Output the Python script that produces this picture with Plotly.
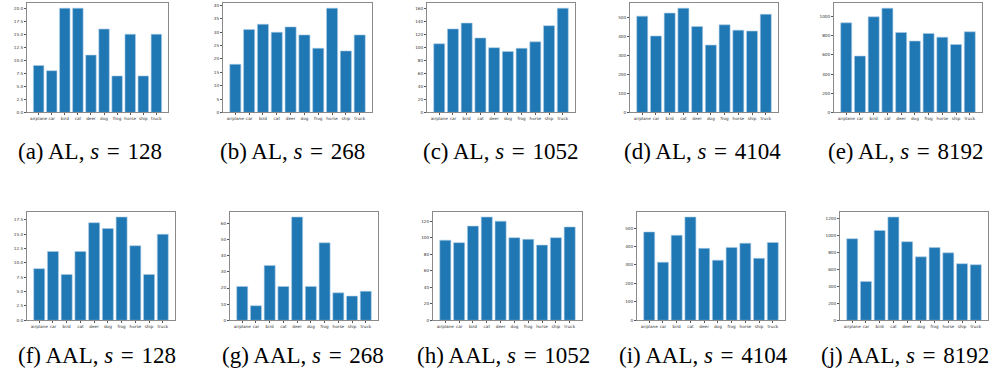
import plotly.graph_objects as go

categories = ["airplane", "car", "bird", "cat", "deer", "dog", "frog", "horse", "ship", "truck"]

al_128 = [9, 8, 20, 20, 11, 16, 7, 15, 7, 15]
al_268 = [18, 31, 33, 30, 32, 29, 24, 39, 23, 29]
al_1052 = [106, 129, 138, 115, 100, 94, 99, 109, 134, 161]
al_4104 = [509, 404, 525, 551, 454, 356, 463, 435, 430, 519]
al_8192 = [934, 588, 997, 1087, 834, 744, 824, 785, 709, 841]

aal_128 = [9, 12, 8, 12, 17, 16, 18, 13, 8, 15]
aal_268 = [21, 9, 34, 21, 64, 21, 48, 17, 15, 18]
aal_1052 = [97, 94, 114, 125, 120, 100, 98, 91, 100, 113]
aal_4104 = [479, 315, 461, 560, 390, 326, 395, 418, 336, 422]
aal_8192 = [960, 457, 1057, 1216, 925, 747, 856, 794, 666, 654]

EQ = "\u2004=\u2004"
captions = [
    "(a) AL, <i>s</i>" + EQ + "128", "(b) AL, <i>s</i>" + EQ + "268", "(c) AL, <i>s</i>" + EQ + "1052",
    "(d) AL, <i>s</i>" + EQ + "4104", "(e) AL, <i>s</i>" + EQ + "8192",
    "(f) AAL, <i>s</i>" + EQ + "128", "(g) AAL, <i>s</i>" + EQ + "268", "(h) AAL, <i>s</i>" + EQ + "1052",
    "(i) AAL, <i>s</i>" + EQ + "4104", "(j) AAL, <i>s</i>" + EQ + "8192",
]
ytick_steps = [2.5, 5, 20, 100, 200, 2.5, 10, 20, 100, 200]
ytick_formats = [".1f", "d", "d", "d", "d", ".1f", "d", "d", "d", "d"]

series = [al_128, al_268, al_1052, al_4104, al_8192,
          aal_128, aal_268, aal_1052, aal_4104, aal_8192]

W, H = 1004, 375
# pixel boxes (left, right, top, bottom) for each axes
boxes = [
    (27, 168, 3, 113), (223, 372, 3, 113), (427, 575, 3, 113), (630, 778, 3, 113), (834, 982, 3, 113),
    (27, 175, 213, 322), (230, 378, 213, 322), (433, 582, 213, 322), (637, 785, 213, 322), (840, 988, 213, 322),
]
caption_pos = [(90, 152), (292, 152), (500, 152), (702, 152), (905, 152),
               (97, 357), (303, 357), (503, 357), (703, 357), (905, 357)]

fig = go.Figure()
layout = dict(
    width=W, height=H, margin=dict(l=0, r=0, t=0, b=0),
    paper_bgcolor="white", plot_bgcolor="white", showlegend=False,
    font=dict(family="DejaVu Sans", color="#222"),
)
annotations = []
tick_font = dict(family="DejaVu Sans", size=4.2, color="#333")
for i, vals in enumerate(series):
    n = "" if i == 0 else str(i + 1)
    fig.add_trace(go.Bar(
        x=categories, y=vals, xaxis="x" + n, yaxis="y" + n,
        marker=dict(color="#1f77b4", line=dict(color="#a9cbe6", width=0.6)),
        width=0.8,
    ))
    l, r, t, b = boxes[i]
    ymax = max(vals) * 1.05
    step = ytick_steps[i]
    tv = []
    v = 0.0
    while v <= ymax + 1e-9:
        tv.append(v)
        v += step
    layout["xaxis" + n] = dict(
        domain=[l / W, r / W], anchor="y" + n, type="category",
        range=[-0.89, 9.89], showline=True, mirror=True, linecolor="#8a8a8a", linewidth=1,
        ticks="outside", ticklen=2, tickwidth=0.5, tickcolor="#555",
        tickfont=tick_font, showgrid=False, zeroline=False, tickangle=0,
    )
    layout["yaxis" + n] = dict(
        domain=[1 - b / H, 1 - t / H], anchor="x" + n,
        range=[0, ymax], showline=True, mirror=True, linecolor="#8a8a8a", linewidth=1,
        ticks="outside", ticklen=2, tickwidth=0.5, tickcolor="#555",
        tickvals=tv, tickformat=ytick_formats[i], tickfont=tick_font,
        showgrid=False, zeroline=False,
    )
    cx, cy = caption_pos[i]
    annotations.append(dict(
        text=captions[i], x=cx / W, y=1 - cy / H, xref="paper", yref="paper",
        xanchor="center", yanchor="middle", showarrow=False,
        font=dict(family="Liberation Serif", size=23, color="black"),
    ))
layout["annotations"] = annotations
fig.update_layout(**layout)
fig.write_html("out.html")
